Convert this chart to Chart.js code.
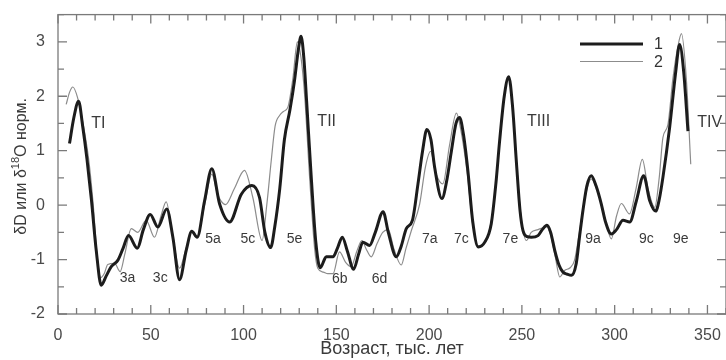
<!DOCTYPE html>
<html>
<head>
<meta charset="utf-8">
<script src="https://cdn.jsdelivr.net/npm/chart.js@4.4.1/dist/chart.umd.min.js"></script>
<style>
    html, body { margin: 0; padding: 0; background: #fff; }
    canvas { display: block; }
</style>
</head>
<body>
<canvas id="grafico" width="726" height="360"></canvas>
<script>
// --- Dados ---

// curva 1 (linha grossa)
const ages1 = [6.2, 8.5, 11.1, 13.3, 15.6, 18, 20.6, 23.3, 26, 28.7,
    32.3, 35, 38, 42.7, 46, 49.7, 53.8, 58.6, 61.9, 65.5,
    69.1, 72.1, 75, 79, 82.9, 87.1, 92.5, 98.8, 104.5, 108.6,
    111.5, 114.6, 116.8, 119.5, 122, 125, 127.5, 129.5, 131, 132.5,
    134, 136.5, 139, 141.3, 144.6, 148.2, 150.5, 153.2, 156, 159.3,
    162, 164.3, 167.9, 171, 175.2, 178, 182.3, 185, 187.7, 191,
    194, 196.5, 198.8, 201, 203, 206.9, 209.5, 212, 214.5, 216.4,
    218.5, 220.9, 223.5, 226.5, 230, 233.5, 236, 238, 240.5, 242.9,
    245, 247, 249, 250.6, 253, 255.1, 258.7, 261, 263.5, 265.5,
    267.7, 270, 272.1, 274.5, 276.7, 279.3, 281, 282.9, 285, 287.4,
    290, 292.8, 295, 298.2, 301, 304.5, 308.1, 311.7, 315.6, 318.9,
    322.1, 324, 326, 329.6, 332.9, 335, 337.2, 339.5];
const values1 = [1.13, 1.6, 1.91, 1.45, 0.85, 0.1, -0.83, -1.47, -1.3, -1.13,
    -1.01, -0.8, -0.56, -0.79, -0.45, -0.17, -0.4, -0.07, -0.59, -1.37,
    -0.83, -0.48, -0.59, 0.08, 0.67, 0.02, -0.31, 0.2, 0.36, 0.14,
    -0.5, -0.78, -0.4, 0.3, 1.2, 1.75, 2.3, 2.85, 3.1, 2.7,
    1.9, 0.5, -0.7, -1.15, -0.95, -0.95, -0.8, -0.59, -0.85, -1.18,
    -0.9, -0.68, -0.74, -0.5, -0.12, -0.5, -0.95, -0.75, -0.43, -0.28,
    0.39, 1.0, 1.39, 1.2, 0.69, 0.12, 0.45, 0.99, 1.5, 1.61,
    1.3, 0.63, -0.3, -0.77, -0.68, -0.34, 0.4, 1.18, 2.0, 2.36,
    1.8, 0.81, -0.1, -0.47, -0.58, -0.59, -0.56, -0.45, -0.37, -0.5,
    -0.83, -1.1, -1.23, -1.27, -1.29, -1.07, -0.6, -0.1, 0.35, 0.54,
    0.35, 0.02, -0.3, -0.53, -0.45, -0.28, -0.31, 0.08, 0.54, 0.08,
    -0.11, 0.1, 0.51, 1.42, 2.45, 2.95, 2.45, 1.36];

// curva 2 (linha fina)
const ages2 = [4.4, 6.3, 8, 10.5, 13.5, 16.5, 19, 21, 23, 25,
    26.8, 30.5, 33.5, 36, 39.5, 43, 47.5, 52, 55.5, 58.3,
    61.5, 65.5, 69, 72, 75, 79, 82.9, 86, 90.3, 95,
    100.5, 105, 110, 112.5, 114.9, 117, 119.5, 121.5, 123.9, 126.6,
    129, 131, 132.9, 135.6, 138.3, 140, 143, 145.4, 148.2, 151.7,
    155, 158, 161, 163.8, 166, 168.8, 172, 175, 178, 181,
    185, 187.5, 190.4, 194.9, 198, 200.8, 203.5, 207.4, 211, 214.7,
    217, 220.5, 223.5, 226.5, 230, 233.5, 236, 238, 240.5, 242.9,
    245, 247, 249.5, 252.4, 255, 258.7, 263.5, 265.5, 268, 270.4,
    273, 276, 278.4, 281, 283.5, 287.4, 290, 293, 295.5, 298.2,
    301, 303.6, 308, 311.5, 314.9, 318, 321.6, 324, 326, 328.7,
    331.4, 334, 336, 338.6, 341];
const values2 = [1.85, 2.08, 2.17, 1.98, 1.5, 0.85, 0.0, -0.9, -1.33, -1.25,
    -1.09, -1.07, -1.22, -0.9, -0.43, -0.5, -0.28, -0.59, -0.2, 0.06,
    -0.5, -1.16, -0.8, -0.5, -0.57, 0.0, 0.57, 0.2, 0.01, 0.3,
    0.64, 0.14, -0.65, 0.0, 0.81, 1.45, 1.65, 1.72, 1.8, 2.33,
    3.0, 2.7, 2.03, 0.51, -0.8, -1.16, -1.23, -1.26, -1.26, -0.86,
    -1.05, -1.13, -0.85, -0.65, -0.8, -0.95, -0.7, -0.5, -0.45, -0.8,
    -1.1, -0.8, -0.47, 0.02, 0.7, 0.99, 0.6, 0.39, 1.1, 1.69,
    1.4, 0.6, -0.35, -0.75, -0.7, -0.3, 0.4, 1.18, 2.0, 2.36,
    1.8, 0.8, -0.2, -0.65, -0.5, -0.45, -0.4, -0.55, -0.95, -1.32,
    -1.2, -1.15, -1.01, -0.5, 0.05, 0.48, 0.33, 0.0, -0.35, -0.62,
    -0.2, 0.03, -0.16, 0.3, 0.84, 0.3, -0.04, 0.5, 1.24, 1.48,
    2.33, 2.9, 3.15, 2.33, 0.75];

const seriesLabels = ['1', '2'];

// rótulos dos eixos
const xTicks = [0, 50, 100, 150, 200, 250, 300, 350];
const yTicks = [-2, -1, 0, 1, 2, 3];

// estágios isotópicos (idade, nível)
const stageNames = ['TI', 'TII', 'TIII', 'TIV', '3a', '3c', '5a', '5c', '5e',
    '6b', '6d', '7a', '7c', '7e', '9a', '9c', '9e'];
const stageAges = [21.8, 144.8, 259, 351.2, 37.5, 55.1, 83.5, 102.3, 127.5,
    151.8, 173.3, 200.3, 217.4, 243.8, 288.3, 317.1, 335.6];
const stageLevels = [1.5, 1.54, 1.54, 1.52, -1.35, -1.35, -0.62, -0.62, -0.62,
    -1.36, -1.36, -0.62, -0.62, -0.62, -0.62, -0.62, -0.62];

const FONT = 'Liberation Sans, Arial, sans-serif';

// --- Plugins ---

// moldura com marcas para dentro
const molduraPlugin = {
    id: 'moldura',
    beforeDatasetsDraw(chart) {
        const { ctx, chartArea: a, scales: { x, y } } = chart;
        ctx.save();
        ctx.strokeStyle = '#7a7a7a';
        ctx.lineWidth = 1.3;
        ctx.strokeRect(a.left, a.top, a.right - a.left, a.bottom - a.top);
        ctx.beginPath();
        for (let v = x.min; v <= x.max; v += 10) {
            const px = x.getPixelForValue(v);
            const len = v % 50 === 0 ? 9 : 6;
            ctx.moveTo(px, a.bottom); ctx.lineTo(px, a.bottom - len);
            ctx.moveTo(px, a.top); ctx.lineTo(px, a.top + len);
        }
        for (let v = y.min; v <= y.max; v += 0.5) {
            const py = y.getPixelForValue(v);
            const len = Number.isInteger(v) ? 9 : 6;
            ctx.moveTo(a.left, py); ctx.lineTo(a.left + len, py);
            ctx.moveTo(a.right, py); ctx.lineTo(a.right - len, py);
        }
        ctx.stroke();
        ctx.restore();
    }
};

// nomes dos estágios dentro do gráfico
const estagiosPlugin = {
    id: 'estagios',
    afterDatasetsDraw(chart) {
        const { ctx, scales: { x, y } } = chart;
        ctx.save();
        ctx.fillStyle = '#3a3a3a';
        ctx.textAlign = 'center';
        ctx.textBaseline = 'middle';
        stageNames.forEach((name, i) => {
            const big = name.startsWith('T');
            ctx.font = (big ? '16px ' : '14px ') + FONT;
            ctx.fillText(name, x.getPixelForValue(stageAges[i]), y.getPixelForValue(stageLevels[i]));
        });
        ctx.restore();
    }
};

// legenda desenhada à mão
const legendaPlugin = {
    id: 'legenda',
    afterDraw(chart) {
        const { ctx } = chart;
        ctx.save();
        chart.data.datasets.forEach((ds, i) => {
            const ly = 44 + i * 17.5;
            ctx.strokeStyle = ds.borderColor;
            ctx.lineWidth = ds.borderWidth;
            ctx.beginPath();
            ctx.moveTo(580, ly);
            ctx.lineTo(643, ly);
            ctx.stroke();
            ctx.fillStyle = '#333';
            ctx.font = '16px ' + FONT;
            ctx.textAlign = 'left';
            ctx.textBaseline = 'middle';
            ctx.fillText(ds.label, 654, ly + 1);
        });
        ctx.restore();
    }
};

// título do eixo Y com sobrescrito
const tituloYPlugin = {
    id: 'tituloY',
    afterDraw(chart) {
        const { ctx, chartArea: a } = chart;
        const parts = [
            { t: 'δD или δ', f: '16px ' + FONT, dy: 0 },
            { t: '18', f: '11px ' + FONT, dy: -6 },
            { t: 'O норм.', f: '16px ' + FONT, dy: 0 }
        ];
        ctx.save();
        let total = 0;
        parts.forEach(p => { ctx.font = p.f; p.w = ctx.measureText(p.t).width; total += p.w; });
        ctx.translate(22, (a.top + a.bottom) / 2 + 2);
        ctx.rotate(-Math.PI / 2);
        ctx.fillStyle = '#3a3a3a';
        ctx.textBaseline = 'middle';
        ctx.textAlign = 'left';
        let cx = -total / 2;
        parts.forEach(p => {
            ctx.font = p.f;
            ctx.fillText(p.t, cx, p.dy);
            cx += p.w;
        });
        ctx.restore();
    }
};

// --- Gráfico ---

const ctx = document.getElementById('grafico').getContext('2d');

new Chart(ctx, {
    type: 'line',
    data: {
        datasets: [{
            label: seriesLabels[0],
            data: ages1.map((a, i) => ({ x: a, y: values1[i] })),
            borderColor: '#1c1c1c',
            borderWidth: 3,
            pointRadius: 0,
            cubicInterpolationMode: 'monotone',
            fill: false
        }, {
            label: seriesLabels[1],
            data: ages2.map((a, i) => ({ x: a, y: values2[i] })),
            borderColor: '#8c8c8c',
            borderWidth: 1.2,
            pointRadius: 0,
            cubicInterpolationMode: 'monotone',
            fill: false
        }]
    },
    options: {
        responsive: false,
        animation: false,
        layout: { padding: { top: 13, right: 0, left: 0, bottom: 0 } },
        plugins: {
            legend: { display: false },
            tooltip: { enabled: false }
        },
        scales: {
            x: {
                type: 'linear',
                min: 0,
                max: 360,
                afterBuildTicks: s => { s.ticks = xTicks.map(v => ({ value: v })); },
                afterFit: s => { s.height = 46; },
                grid: { display: false },
                border: { display: false },
                ticks: {
                    color: '#4a4a4a',
                    font: { family: FONT, size: 16 },
                    padding: 4,
                    maxRotation: 0
                },
                title: {
                    display: true,
                    text: 'Возраст, тыс. лет',
                    color: '#3a3a3a',
                    font: { family: FONT, size: 18 },
                    padding: { top: 0, bottom: 0 }
                }
            },
            y: {
                type: 'linear',
                min: -2,
                max: 3.5,
                afterBuildTicks: s => { s.ticks = yTicks.map(v => ({ value: v })); },
                afterFit: s => { s.width = 58; },
                grid: { display: false },
                border: { display: false },
                ticks: {
                    color: '#4a4a4a',
                    font: { family: FONT, size: 16 },
                    padding: 5
                }
            }
        }
    },
    plugins: [molduraPlugin, estagiosPlugin, legendaPlugin, tituloYPlugin]
});
</script>
</body>
</html>
